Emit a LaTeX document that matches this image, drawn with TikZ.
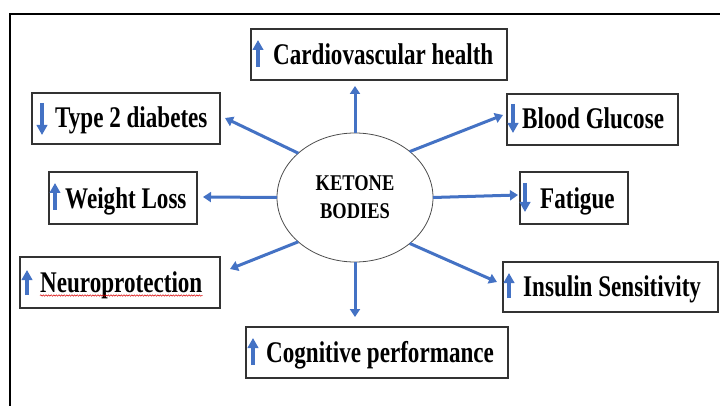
\documentclass[tikz,border=0pt]{standalone}
\usepackage{fontspec}
\setmainfont{Liberation Serif}
\usetikzlibrary{arrows.meta,shapes.geometric,decorations.pathmorphing}
\definecolor{arblue}{HTML}{4472C4}
\newcommand{\sqz}[1]{\scalebox{0.77}[1]{#1}}
\newcommand{\sqk}[1]{\scalebox{0.82}[1]{#1}}
\begin{document}
\begin{tikzpicture}[x=1pt,y=-1pt,
  conn/.style={draw=arblue,line width=3pt,-{Triangle[width=10pt,length=8pt]}},
  sign/.style={draw=arblue,line width=3.4pt,-{Triangle[width=10.5pt,length=10pt]}},
  box/.style={draw=black!80,line width=1.2pt,rectangle,inner sep=0pt,outer sep=0pt,anchor=north west},
  lbl/.style={anchor=base west,inner sep=0pt,font=\fontsize{30}{32}\selectfont\bfseries},
]
\useasboundingbox (0,0) rectangle (720,406);
% frame
\draw[line width=2pt] (10,406) -- (10,14) -- (720,14);

% centre ellipse
\node[ellipse,draw=black!70,line width=0.8pt,minimum width=156pt,minimum height=129pt,
      inner sep=0pt,outer sep=0pt,align=center,
      font=\fontsize{22.5}{28}\selectfont\bfseries] (ket) at (355,197.5)
      {\sqk{KETONE}\\\sqk{BODIES}};

% boxes
\node[box,minimum width=256pt,minimum height=51pt] (cv)  at (251,29)  {};
\node[box,minimum width=188pt,minimum height=51pt] (t2d) at (32,93)   {};
\node[box,minimum width=171pt,minimum height=51pt] (bg)  at (507,94)  {};
\node[box,minimum width=148pt,minimum height=52pt] (wl)  at (49,172)  {};
\node[box,minimum width=108pt,minimum height=52pt] (fat) at (520,172) {};
\node[box,minimum width=200pt,minimum height=51pt] (nr)  at (20,257)  {};
\node[box,minimum width=215pt,minimum height=50pt] (ins) at (503,262) {};
\node[box,minimum width=262pt,minimum height=51pt] (cog) at (246,327) {};

% labels
\node[lbl] (cvt)  at (273,64.5)  {\sqz{Cardiovascular health}};
\node[lbl] (t2dt) at (55,128)    {\sqz{Type 2 diabetes}};
\node[lbl] (bgt)  at (522,129)   {\sqz{Blood Glucose}};
\node[lbl] (wlt)  at (65,208)    {\sqz{Weight Loss}};
\node[lbl] (fatt) at (540,208)   {\sqz{Fatigue}};
\node[lbl] (nrt)  at (40,292)    {\sqz{Neuroprotection}};
\node[lbl] (inst) at (523,296.5) {\sqz{Insulin Sensitivity}};
\node[lbl] (cogt) at (266,362.5) {\sqz{Cognitive performance}};

% spell-check squiggle
\draw[red!85!black,line width=0.5pt,decorate,decoration={snake,amplitude=0.7pt,segment length=2.6pt}]
  ([yshift=-3.5pt]nrt.base west) -- ([yshift=-3.5pt]nrt.base east);

% up / down signs
\draw[sign] (258,67) -- (258,40);
\draw[sign] (42,103) -- (42,135);
\draw[sign] (513,104) -- (513,133);
\draw[sign] (55,210) -- (55,183);
\draw[sign] (525,183) -- (525,212);
\draw[sign] (27,295) -- (27,270);
\draw[sign] (509,298) -- (509,273);
\draw[sign] (253,365) -- (253,338);

% connector ends
\coordinate (ecv)  at (355,86);
\coordinate (et2d) at (225,118);
\coordinate (ebg)  at (503,115);
\coordinate (ewl)  at (203,197);
\coordinate (efat) at (518,195);
\coordinate (enr)  at (230,269);
\coordinate (eins) at (497,282);
\coordinate (ecog) at (355,317);

\draw[conn] (ket.north) -- (ecv);
\draw[conn] (ket.142) -- (et2d);
\draw[conn] (ket.40) -- (ebg);
\draw[conn] (ket.180) -- (ewl);
\draw[conn] (ket.0) -- (efat);
\draw[conn] (ket.218) -- (enr);
\draw[conn] (ket.320) -- (eins);
\draw[conn] (ket.south) -- (ecog);
\end{tikzpicture}
\end{document}
